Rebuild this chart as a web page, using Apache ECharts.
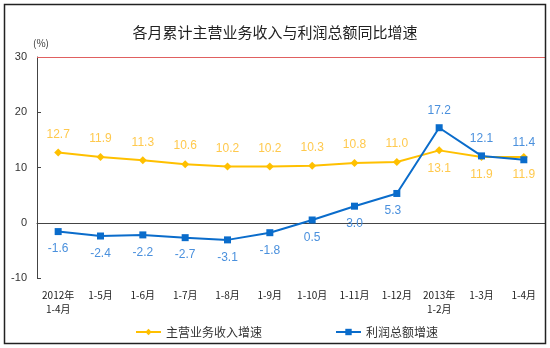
<!DOCTYPE html>
<html><head><meta charset="utf-8">
<script src="https://cdn.jsdelivr.net/npm/echarts@6/dist/echarts.min.js"></script>
<style>html,body{margin:0;padding:0;background:#fff}#c{width:550px;height:348px}</style>
</head><body><div id="c"></div>
<script>
var categories = ['2012年\n1-4月','1-5月','1-6月','1-7月','1-8月','1-9月','1-10月','1-11月','1-12月','2013年\n1-2月','1-3月','1-4月'];
var revenueGrowth = [12.7, 11.9, 11.3, 10.6, 10.2, 10.2, 10.3, 10.8, 11.0, 13.1, 11.9, 11.9];
var profitGrowth = [-1.6, -2.4, -2.2, -2.7, -3.1, -1.8, 0.5, 3.0, 5.3, 17.2, 12.1, 11.4];
var yTicks = [-10, 0, 10, 20, 30];

var font = '"Noto Sans CJK SC", sans-serif';
var revData = revenueGrowth.map(function(v, i){
  return {value: v, label: {position: i >= 9 ? 'bottom' : 'top'}};
});
var profData = profitGrowth.map(function(v, i){
  var lab = {position: i >= 9 ? 'top' : 'bottom'};
  if (i === 8) { lab.offset = [-4, 0]; }
  return {value: v, label: lab};
});

var chart = echarts.init(document.getElementById('c'));
chart.setOption({
  animation: false,
  title: {text: '各月累计主营业务收入与利润总额同比增速', left: 'center', top: 20,
    textStyle: {fontFamily: font, fontSize: 15, fontWeight: 'normal', color: '#222'}},
  graphic: [
    {type: 'rect', shape: {x: 4.5, y: 4.5, width: 541, height: 339}, style: {fill: null, stroke: '#222', lineWidth: 1.5}, z: 100},
    {type: 'text', left: 33, top: 38, style: {text: '(%)', font: '10px ' + font, fill: '#333'}}
  ],
  legend: {bottom: 5, left: 130, itemGap: 73, itemWidth: 25, itemHeight: 8,
    textStyle: {fontFamily: font, fontSize: 12, color: '#333'},
    data: ['主营业务收入增速', '利润总额增速']},
  grid: {left: 37, right: 5, top: 57, bottom: 70},
  xAxis: {type: 'category', data: categories, boundaryGap: true,
    axisLine: {lineStyle: {color: '#444', width: 1}},
    axisTick: {inside: true, length: 4, lineStyle: {color: '#444'}},
    axisLabel: {fontFamily: font, fontSize: 10, color: '#222', margin: 10, lineHeight: 14, interval: 0}},
  yAxis: {type: 'value', min: -10, max: 30, interval: 10,
    axisLine: {show: true, lineStyle: {color: '#444'}},
    axisTick: {show: true, inside: true, length: 4, lineStyle: {color: '#444'}},
    axisLabel: {fontFamily: 'Arial, sans-serif', fontSize: 11, color: '#333', margin: 10,
      formatter: function(v){ return yTicks.indexOf(v) >= 0 ? String(v) : ''; }},
    splitLine: {show: false}},
  series: [
    {name: '主营业务收入增速', type: 'line', data: revData, symbol: 'diamond', symbolSize: 8,
      lineStyle: {color: '#FFC000', width: 2}, itemStyle: {color: '#FFC000'},
      label: {show: true, fontFamily: 'Arial, sans-serif', fontSize: 12, color: '#FFC94D', distance: 8,
        formatter: function(p){ return p.value.toFixed(1); }},
      markLine: {silent: true, symbol: 'none', label: {show: false},
        lineStyle: {color: '#e06060', type: 'solid', width: 1}, data: [{yAxis: 30}]}},
    {name: '利润总额增速', type: 'line', data: profData, symbol: 'rect', symbolSize: 7,
      lineStyle: {color: '#0A6CCB', width: 2}, itemStyle: {color: '#0A6CCB'},
      label: {show: true, fontFamily: 'Arial, sans-serif', fontSize: 12, color: '#4A90DD', distance: 8,
        formatter: function(p){ return p.value.toFixed(1); }}}
  ]
});
</script></body></html>
